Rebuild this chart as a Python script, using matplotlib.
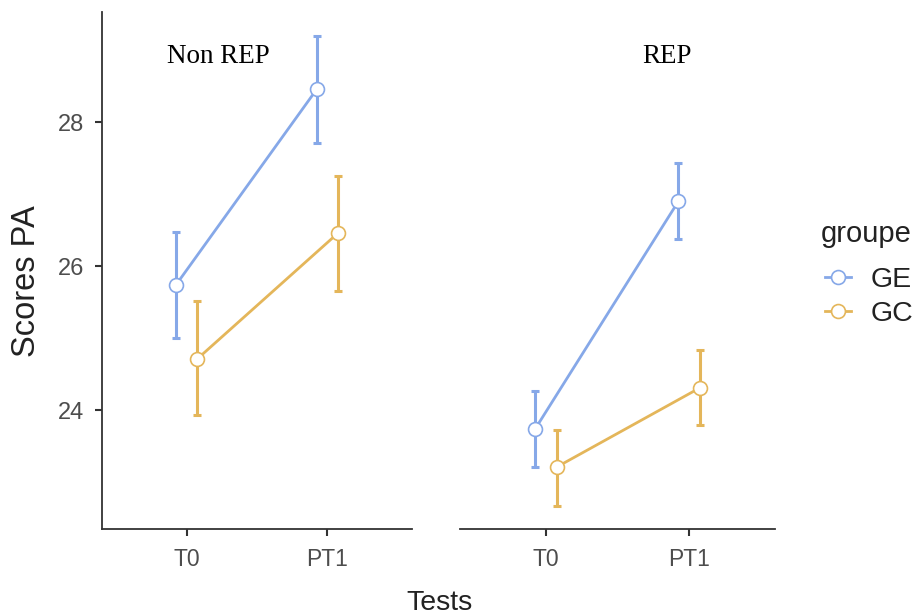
import matplotlib
matplotlib.use("Agg")
import matplotlib.pyplot as plt
from matplotlib.lines import Line2D
import numpy as np

tests = ["T0", "PT1"]
groups = ["GE", "GC"]
panels = ["Non REP", "REP"]

# means and CI bounds, per panel, per group, per test
nonrep_ge_mean = [25.74, 28.46]
nonrep_ge_low = [25.00, 27.71]
nonrep_ge_high = [26.47, 29.19]
nonrep_gc_mean = [24.71, 26.46]
nonrep_gc_low = [23.93, 25.65]
nonrep_gc_high = [25.51, 27.25]

rep_ge_mean = [23.74, 26.90]
rep_ge_low = [23.21, 26.38]
rep_ge_high = [24.26, 27.43]
rep_gc_mean = [23.21, 24.31]
rep_gc_low = [22.67, 23.79]
rep_gc_high = [23.72, 24.84]

yticks = [24, 26, 28]

colors = {"GE": "#86A8E8", "GC": "#E4B65A"}
dodge = {"GE": -0.075, "GC": 0.075}

data = {
    "Non REP": {
        "GE": (nonrep_ge_mean, nonrep_ge_low, nonrep_ge_high),
        "GC": (nonrep_gc_mean, nonrep_gc_low, nonrep_gc_high),
    },
    "REP": {
        "GE": (rep_ge_mean, rep_ge_low, rep_ge_high),
        "GC": (rep_gc_mean, rep_gc_low, rep_gc_high),
    },
}

sans = "Liberation Sans"
serif = "Liberation Serif"
tick_color = "#4D4D4D"
axis_color = "#333333"
text_color = "#222222"

W, H = 918, 615
fig = plt.figure(figsize=(W / 100, H / 100), dpi=100)
ax_pos = [
    [102 / W, 1 - 529 / H, 310 / W, 517 / H],
    [460 / W, 1 - 529 / H, 315 / W, 517 / H],
]
ylim = (22.35, 29.53)
xlim = (-0.6, 1.6)
label_pos = {"Non REP": (0.374, 0.902), "REP": (0.657, 0.902)}

for i, panel in enumerate(panels):
    ax = fig.add_axes(ax_pos[i])
    x = np.arange(len(tests))
    for g in groups:
        m, lo, hi = data[panel][g]
        m = np.array(m); lo = np.array(lo); hi = np.array(hi)
        xs = x + dodge[g]
        ax.errorbar(xs, m, yerr=[m - lo, hi - m], fmt="none", ecolor=colors[g],
                    elinewidth=2.2, capsize=2.6, capthick=2.2, zorder=2)
        ax.plot(xs, m, color=colors[g], lw=2.0, zorder=3)
        ax.plot(xs, m, "o", ms=10, mfc="white", mec=colors[g], mew=1.2, zorder=4)
    ax.set_xlim(*xlim)
    ax.set_ylim(*ylim)
    ax.set_xticks(x)
    ax.set_xticklabels(tests, fontsize=16.5, family=sans, color=tick_color)
    ax.spines["top"].set_visible(False)
    ax.spines["right"].set_visible(False)
    ax.spines["bottom"].set_color(axis_color)
    ax.spines["bottom"].set_linewidth(1.3)
    ax.tick_params(axis="x", length=5, width=1.5, color=axis_color, pad=9)
    if i == 0:
        ax.set_yticks(yticks)
        ax.set_yticklabels([str(t) for t in yticks], fontsize=17, family=sans, color=tick_color)
        ax.spines["left"].set_color(axis_color)
        ax.spines["left"].set_linewidth(1.3)
        ax.tick_params(axis="y", length=5, width=1.5, color=axis_color, pad=8)
        ax.set_ylabel("Scores PA", fontsize=23.5, family=sans, color=text_color)
        ax.yaxis.set_label_coords(-0.245, 0.48)
        ax.yaxis.label.set_va("center")
    else:
        ax.spines["left"].set_visible(False)
        ax.set_yticks([])
    ax.text(label_pos[panel][0], label_pos[panel][1], panel, transform=ax.transAxes,
            ha="center", va="baseline", fontsize=19.5, family=serif, color="black")
    ax.set_facecolor("none")

fig.text(439.5 / W, 1 - 610 / H, "Tests", ha="center", va="baseline",
         fontsize=20.5, family=sans, color=text_color)

fig.text(821 / W, 1 - 242 / H, "groupe", ha="left", va="baseline",
         fontsize=21, family=sans, color=text_color)

handles = [Line2D([0], [0], color=colors[g], lw=2.0, marker="o", ms=10,
                  mfc="white", mec=colors[g], mew=1.2) for g in groups]
leg = fig.legend(handles, groups, loc="upper left", bbox_to_anchor=(825 / W, 1 - 267 / H),
                 frameon=False, handlelength=0.9, handletextpad=0.72,
                 labelspacing=0.28, borderpad=0, borderaxespad=0,
                 prop={"family": sans, "size": 20.5})
for t in leg.get_texts():
    t.set_color(text_color)

fig.savefig("out.png", dpi=100)
